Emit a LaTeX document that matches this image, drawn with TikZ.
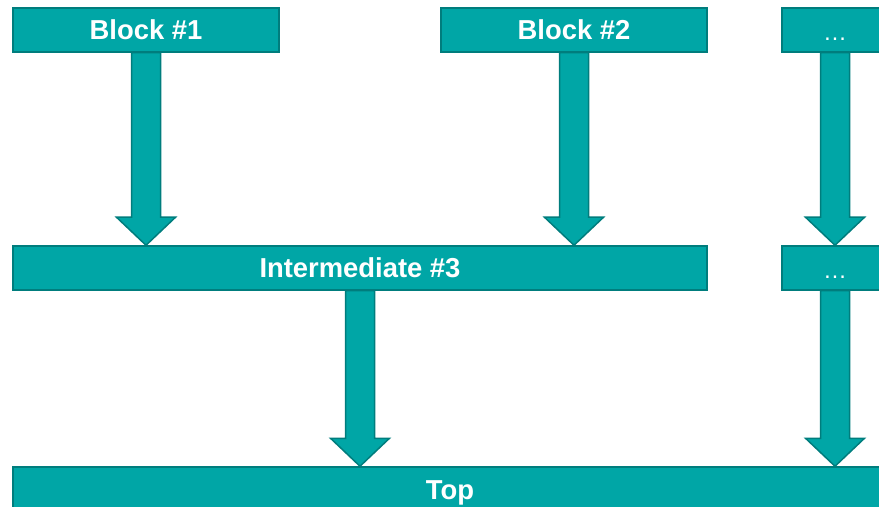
\documentclass[tikz,border=0pt]{standalone}
\usepackage{fontspec}
\setmainfont{Liberation Sans}
\usetikzlibrary{calc,backgrounds}

\definecolor{tealfill}{RGB}{0,166,166}
\definecolor{tealedge}{RGB}{0,125,125}

\tikzset{
  x=1bp, y=-1bp,
  blockbox/.style={draw=tealedge, fill=tealfill, line width=1.5bp,
    minimum height=44bp, inner sep=0pt, text=white,
    font=\fontsize{27.5}{30}\selectfont\bfseries,
    text height=20bp, text depth=0bp},
  blockarrow/.style={draw=tealedge, fill=tealfill, line width=1.5bp, line join=miter},
}

% smaller, lighter ellipsis for the placeholder boxes
\newcommand{\moredots}{\raisebox{-1bp}{\fontsize{24}{26}\selectfont\mdseries\ldots}}

% block arrow: shaft from #1 down to the tip at #2
\newcommand{\fatarrow}[2]{%
  \draw[blockarrow]
    ($(#1)+(-14.5,0)$) -- ($(#2)+(-14.5,-28)$) -- ($(#2)+(-29.5,-28)$) --
    (#2) -- ($(#2)+(29.5,-28)$) -- ($(#2)+(14.5,-28)$) -- ($(#1)+(14.5,0)$) -- cycle;}

\begin{document}
\begin{tikzpicture}
\useasboundingbox (0,0) rectangle (879,507);

\node[blockbox, minimum width=266bp] (b1) at (146,30) {Block \#1};
\node[blockbox, minimum width=266bp] (b2) at (574,30) {Block \#2};
\node[blockbox, minimum width=106bp] (d1) at (835,30) {\moredots};

\node[blockbox, minimum width=694bp] (i3) at (360,268) {Intermediate \#3};
\node[blockbox, minimum width=106bp] (d2) at (835,268) {\moredots};

\node[blockbox, minimum width=874bp] (top) at (450,489) {Top};

\begin{scope}[on background layer]
  \coordinate (t1) at (b1.south |- i3.north);
  \coordinate (t2) at (b2.south |- i3.north);
  \coordinate (t3) at (d1.south |- d2.north);
  \coordinate (t4) at (i3.south |- top.north);
  \coordinate (t5) at (d2.south |- top.north);
  \fatarrow{b1.south}{t1}
  \fatarrow{b2.south}{t2}
  \fatarrow{d1.south}{t3}
  \fatarrow{i3.south}{t4}
  \fatarrow{d2.south}{t5}
\end{scope}
\end{tikzpicture}
\end{document}
